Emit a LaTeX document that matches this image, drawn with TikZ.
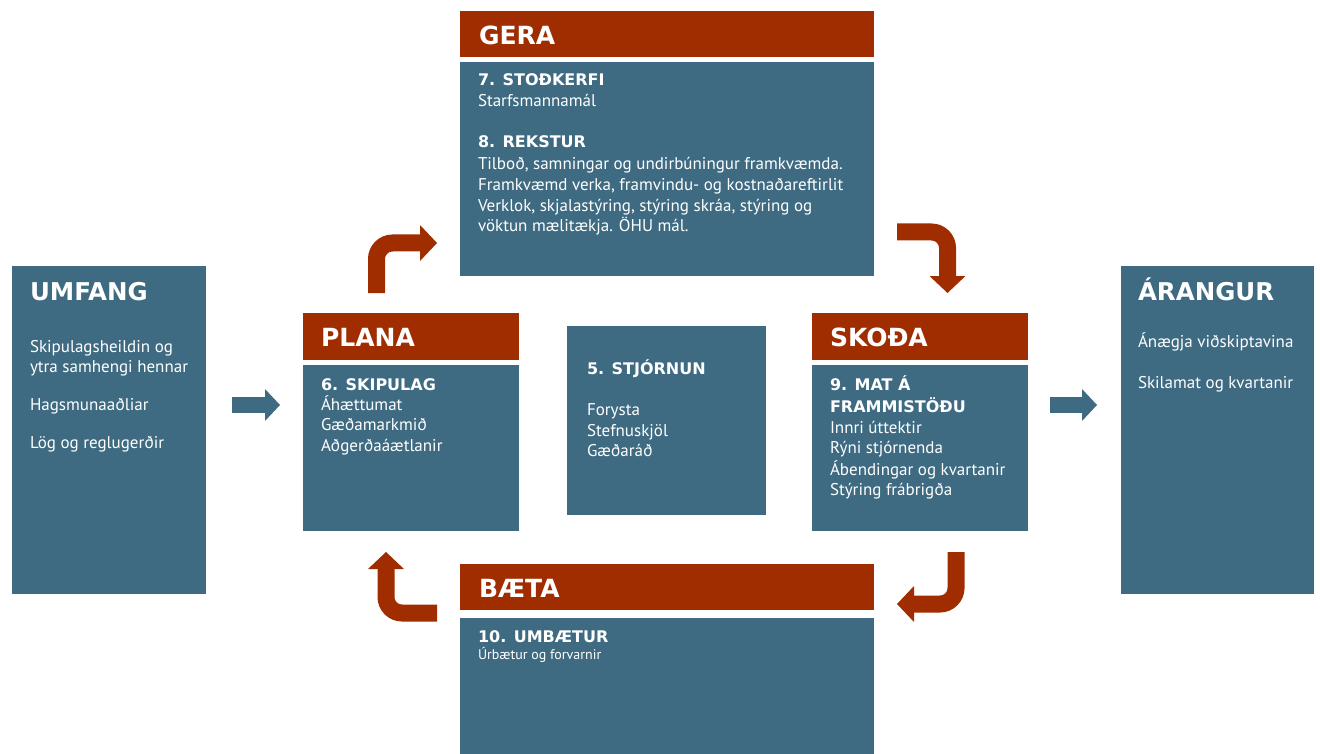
\documentclass[tikz,border=0pt]{standalone}
\usepackage{fontspec}
\setmainfont{PT Sans}
\newfontfamily\headfont{DejaVu Sans}
\usetikzlibrary{arrows.meta}
\definecolor{redc}{RGB}{160,45,0}
\definecolor{bluec}{RGB}{62,107,130}
\begin{document}
\begin{tikzpicture}[x=1pt,y=-1pt,
  bluebox/.style={fill=bluec, draw=none, inner sep=0pt, outer sep=0pt, anchor=north west},
  redbox/.style={fill=redc, draw=none, inner sep=0pt, outer sep=0pt, anchor=north west},
  txt/.style={text=white, inner sep=0pt, outer sep=0pt, anchor=base west},
  bigttl/.style={txt, font=\headfont\bfseries\fontsize{25pt}{30pt}\selectfont},
  sidettl/.style={txt, font=\headfont\bfseries\fontsize{24.5pt}{30pt}\selectfont},
  secttl/.style={txt, font=\headfont\bfseries\fontsize{16pt}{20pt}\selectfont},
  body/.style={txt, font=\fontsize{17pt}{20pt}\selectfont},
  smallbody/.style={txt, font=\fontsize{14pt}{16pt}\selectfont},
  redarrow/.style={draw=redc, line width=17pt, rounded corners=16pt,
    -{Triangle[width=36pt,length=17pt,line width=0pt]}},
  bluearrow/.style={draw=bluec, line width=16pt,
    -{Triangle[width=32pt,length=15pt,line width=0pt]}}
]
\useasboundingbox (0,0) rectangle (1320,754);
\fill[white] (0,0) rectangle (1320,754);

% boxes
\node[redbox, minimum width=414pt, minimum height=46pt] (gerah) at (460,11) {};
\node[bluebox, minimum width=414pt, minimum height=214pt] (gerab) at (460,62) {};
\node[redbox, minimum width=216pt, minimum height=47pt] (planah) at (303,313) {};
\node[bluebox, minimum width=216pt, minimum height=166pt] (planab) at (303,365) {};
\node[redbox, minimum width=216pt, minimum height=47pt] (skodah) at (812,313) {};
\node[bluebox, minimum width=216pt, minimum height=166pt] (skodab) at (812,365) {};
\node[redbox, minimum width=414pt, minimum height=46pt] (baetah) at (460,564) {};
\node[bluebox, minimum width=414pt, minimum height=136pt] (baetab) at (460,618) {};
\node[bluebox, minimum width=199pt, minimum height=189pt] (stjorn) at (567,326) {};
\node[bluebox, minimum width=194pt, minimum height=328pt] (umfang) at (12,266) {};
\node[bluebox, minimum width=193pt, minimum height=328pt] (arangur) at (1121,266) {};

% GERA
\node[bigttl] (tgera) at (479,45) {GERA};
\node[secttl] (g1) at (478,86) {7. STOÐKERFI};
\node[body] (g2) at (478,107) {Starfsmannamál};
\node[secttl] (g3) at (478,148) {8. REKSTUR};
\node[body] (g4) at (478,170) {Tilboð, samningar og undirbúningur framkvæmda.};
\node[body] (g5) at (478,191) {Framkvæmd verka, framvindu- og kostnaðareftirlit};
\node[body] (g6) at (478,212) {Verklok, skjalastýring, stýring skráa, stýring og};
\node[body] (g7) at (478,232) {vöktun mælitækja. ÖHU mál.};

% PLANA
\node[bigttl] (tplana) at (321,346) {PLANA};
\node[secttl] (p1) at (321,390) {6. SKIPULAG};
\node[body] (p2) at (321,410) {Áhættumat};
\node[body] (p3) at (321,430) {Gæðamarkmið};
\node[body] (p4) at (321,451) {Aðgerðaáætlanir};

% SKODA
\node[bigttl] (tskoda) at (830,346) {SKOÐA};
\node[secttl] (s1) at (830,390) {9. MAT Á};
\node[secttl] (s2) at (830,412) {FRAMMISTÖÐU};
\node[body] (s3) at (830,433) {Innri úttektir};
\node[body] (s4) at (830,453) {Rýni stjórnenda};
\node[body] (s5) at (830,475) {Ábendingar og kvartanir};
\node[body] (s6) at (830,495) {Stýring frábrigða};

% BAETA
\node[bigttl] (tbaeta) at (479,597) {BÆTA};
\node[secttl] (b1) at (478,642) {10. UMBÆTUR};
\node[smallbody] (b2) at (478,659) {Úrbætur og forvarnir};

% STJORNUN
\node[secttl] (c1) at (587,374) {5. STJÓRNUN};
\node[body] (c2) at (587,415) {Forysta};
\node[body] (c3) at (587,436) {Stefnuskjöl};
\node[body] (c4) at (587,456) {Gæðaráð};

% UMFANG
\node[sidettl] (tumfang) at (30,300) {UMFANG};
\node[body] (u1) at (30,352) {Skipulagsheildin og};
\node[body] (u2) at (30,372) {ytra samhengi hennar};
\node[body] (u3) at (30,410) {Hagsmunaaðliar};
\node[body] (u4) at (30,448) {Lög og reglugerðir};

% ARANGUR
\node[sidettl] (tarangur) at (1138,300) {ÁRANGUR};
\node[body] (a1) at (1138,347) {Ánægja viðskiptavina};
\node[body] (a2) at (1138,388) {Skilamat og kvartanir};

% arrow end points
\coordinate (r1s) at (376.5,293);
\coordinate (r1c) at (376.5,243);
\coordinate (r1e) at (437,243);
\coordinate (r2s) at (897,232);
\coordinate (r2c) at (947.5,232);
\coordinate (r2e) at (947.5,293);
\coordinate (r3s) at (956,552);
\coordinate (r3c) at (956,604);
\coordinate (r3e) at (897,604);
\coordinate (r4s) at (437,613);
\coordinate (r4c) at (386,613);
\coordinate (r4e) at (386,552);
\coordinate (l1s) at (232,405);
\coordinate (l1e) at (280,405);
\coordinate (l2s) at (1050,405);
\coordinate (l2e) at (1097,405);

\draw[redarrow] (r1s) -- (r1c) -- (r1e);
\draw[redarrow] (r2s) -- (r2c) -- (r2e);
\draw[redarrow] (r3s) -- (r3c) -- (r3e);
\draw[redarrow] (r4s) -- (r4c) -- (r4e);
\draw[bluearrow] (l1s) -- (l1e);
\draw[bluearrow] (l2s) -- (l2e);
\end{tikzpicture}
\end{document}
